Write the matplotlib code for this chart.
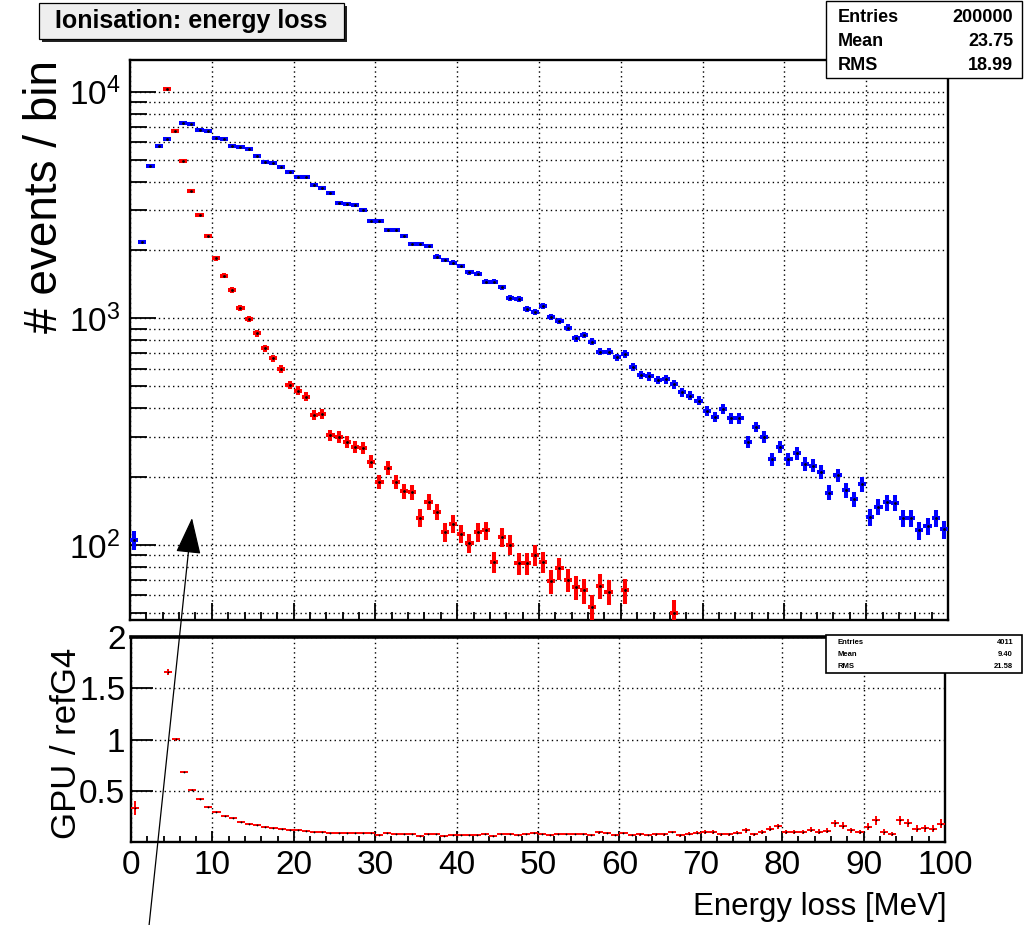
import numpy as np
import matplotlib
matplotlib.use("Agg")
import matplotlib.pyplot as plt
from matplotlib.ticker import LogLocator, MultipleLocator, FixedLocator, FixedFormatter, NullFormatter
from matplotlib.patches import Rectangle, FancyArrowPatch

plt.rcParams["font.family"] = "Liberation Sans"
plt.rcParams["mathtext.fontset"] = "custom"
plt.rcParams["mathtext.rm"] = "Liberation Sans"
plt.rcParams["mathtext.it"] = "Liberation Sans:italic"
plt.rcParams["mathtext.bf"] = "Liberation Sans:bold"

# ---------------------------------------------------------------- data
# energy-loss histogram, 1 MeV bins from 0 to 100 MeV
bin_edges = np.arange(0, 101, 1.0)

# reference Geant4 (blue)
ref_counts = np.array([
    105, 2178, 4710, 5780, 6180, 6700, 7250, 7180, 6780, 6710,
    6270, 6180, 5780, 5690, 5570, 5200, 4910, 4830, 4640, 4430,
    4220, 4220, 3870, 3750, 3560, 3240, 3210, 3150, 3020, 2680,
    2680, 2460, 2460, 2310, 2130, 2130, 2085, 1870, 1810, 1760,
    1700, 1600, 1570, 1450, 1450, 1370, 1226, 1217, 1096, 1069,
    1136, 1010, 976, 909, 816, 844, 788, 712, 712, 673,
    696, 608, 562, 554, 534, 538, 512, 472, 456, 433,
    391, 368, 397, 362, 362, 285, 332, 300, 239, 271,
    239, 254, 228, 224, 210, 170, 203, 175, 159, 185,
    133, 147, 154, 153, 131, 131, 116, 121, 131, 117,
])

# GPU simulation (red)
gpu_counts = np.array([
    35, 0, 0, 0, 10250, 6710, 4940, 3650, 2850, 2315,
    1840, 1542, 1334, 1107, 990, 859, 737, 666, 597, 508,
    479, 451, 374, 378, 305, 300, 285, 271, 267, 233,
    190, 219, 190, 172, 171, 132, 155, 140, 114, 124,
    112, 102, 114, 116, 84, 108, 100, 83, 83, 90,
    84, 69, 79, 70, 65, 63, 53, 66, 62, 46,
    63, 43, 42, 39, 40, 40, 50, 31, 37, 40,
    38, 36, 30, 27, 33, 32, 25, 29, 31, 41,
    23, 25, 22, 27, 21, 19, 37, 28, 18, 18,
    20, 31, 15, 12, 28, 24, 15, 16, 17, 21,
])

x_ticks = [0, 10, 20, 30, 40, 50, 60, 70, 80, 90, 100]
ratio_ticks = [0.5, 1.0, 1.5, 2.0]
ratio_tick_labels = ["0.5", "1", "1.5", "2"]

top_stats = [("Entries", "200000"), ("Mean", "23.75"), ("RMS", "18.99")]
bottom_stats = [("Entries", "4011"), ("Mean", "9.40"), ("RMS", "21.58")]

# ---------------------------------------------------------------- layout
W, H = 1027, 925
fig = plt.figure(figsize=(W / 100, H / 100), dpi=100)


def fx(px):
    return px / W


def fy(py):
    return 1 - py / H


ax1 = fig.add_axes([fx(130), fy(620), fx(948) - fx(130), fy(60) - fy(620)])
ax2 = fig.add_axes([fx(131), fy(842), fx(945) - fx(131), fy(637) - fy(842)])

centers = 0.5 * (bin_edges[:-1] + bin_edges[1:])
half_width = 0.5 * np.diff(bin_edges)

ylo, yhi = 46.6, 13800
dotted = (0, (1, 2.4))


def draw_counts(ax, counts, color, z):
    c = counts.astype(float)
    keep = c >= ylo
    ax.errorbar(centers[keep], c[keep], xerr=half_width[keep], yerr=np.sqrt(c[keep]),
                fmt="o", ms=2.0, mfc="k", mec="k", mew=0,
                ecolor=color, elinewidth=2.9, capsize=0, zorder=z)


# ---------------------------------------------------------------- upper pad
ax1.set_yscale("log")
draw_counts(ax1, ref_counts, "#0000ff", 3)
draw_counts(ax1, gpu_counts, "#ff0000", 4)
ax1.set_xlim(0, 100)
ax1.set_ylim(ylo, yhi)

ax1.yaxis.set_major_locator(LogLocator(base=10, subs=(1.0,)))
ax1.yaxis.set_minor_locator(LogLocator(base=10, subs=np.arange(2, 10)))
ax1.yaxis.set_minor_formatter(NullFormatter())
ax1.xaxis.set_major_locator(FixedLocator(x_ticks))
ax1.xaxis.set_minor_locator(MultipleLocator(2))

ax1.set_axisbelow(True)
ax1.grid(True, which="both", axis="y", ls=dotted, color="k", lw=1.0)
ax1.grid(True, which="major", axis="x", ls=dotted, color="k", lw=1.0)

ax1.tick_params(axis="y", which="major", direction="in", length=19, width=1.3,
                labelsize=24, pad=7, right=False)
ax1.tick_params(axis="y", which="minor", direction="in", length=12, width=1.3, right=False)
ax1.tick_params(axis="x", which="major", direction="in", length=12, width=1.3,
                labelbottom=False, top=False)
ax1.tick_params(axis="x", which="minor", direction="in", length=6, width=1.3, top=False)
for s in ax1.spines.values():
    s.set_linewidth(1.7)

# ---------------------------------------------------------------- ratio pad
ref_f = ref_counts.astype(float)
gpu_f = gpu_counts.astype(float)
has = gpu_f > 0
ratio = gpu_f[has] / ref_f[has]
ratio_err = ratio * np.sqrt(1.0 / gpu_f[has] + 1.0 / ref_f[has])

ax2.errorbar(centers[has], ratio, xerr=half_width[has], yerr=ratio_err,
             fmt="o", ms=1.3, mfc="k", mec="k", mew=0,
             ecolor="#ff0000", elinewidth=1.4, capsize=0, zorder=3)
ax2.set_xlim(0, 100)
ax2.set_ylim(0, 2)

ax2.xaxis.set_major_locator(FixedLocator(x_ticks))
ax2.xaxis.set_minor_locator(MultipleLocator(2))
ax2.yaxis.set_major_locator(FixedLocator(ratio_ticks))
ax2.yaxis.set_major_formatter(FixedFormatter(ratio_tick_labels))

ax2.set_axisbelow(True)
ax2.grid(True, which="major", ls=dotted, color="k", lw=1.0)

ax2.tick_params(axis="x", which="major", direction="in", length=8, width=1.3,
                labelsize=24, pad=6, top=False)
ax2.tick_params(axis="x", which="minor", direction="in", length=4, width=1.3, top=False)
ax2.tick_params(axis="y", which="major", direction="in", length=16, width=1.3,
                labelsize=24, pad=4, right=False)
for name, s in ax2.spines.items():
    s.set_linewidth(2.6 if name == "top" else 1.7)

# ---------------------------------------------------------------- axis titles
fig.text(fx(45), fy(60), "# events / bin", rotation=90, ha="center", va="top", fontsize=33)
fig.text(fx(66), fy(648), "GPU / refG4", rotation=90, ha="center", va="top", fontsize=25)
fig.text(fx(947), fy(922), "Energy loss [MeV]", ha="right", va="bottom", fontsize=22.5)

# ---------------------------------------------------------------- title box
fig.add_artist(Rectangle((fx(42), fy(42)), fx(344) - fx(39), fy(3) - fy(39),
                         transform=fig.transFigure, facecolor="#222222", edgecolor="none"))
fig.add_artist(Rectangle((fx(39), fy(39)), fx(344) - fx(39), fy(3) - fy(39),
                         transform=fig.transFigure, facecolor="#eeeeee",
                         edgecolor="k", lw=0.9))
fig.text(fx(191.5), fy(21), "Ionisation: energy loss", ha="center", va="center",
         fontsize=18, fontweight="bold")


# ---------------------------------------------------------------- statistics boxes
def stats_box(x0, y0, x1, y1, rows, size, lw, ytop):
    fig.add_artist(Rectangle((fx(x0), fy(y1)), fx(x1) - fx(x0), fy(y0) - fy(y1),
                             transform=fig.transFigure, facecolor="white",
                             edgecolor="k", lw=lw, zorder=10))
    step = (y1 - ytop) / len(rows)
    for i, (k, v) in enumerate(rows):
        yc = ytop + step * (i + 0.5)
        fig.text(fx(x0 + 12), fy(yc), k, ha="left", va="center", fontsize=size,
                 fontweight="bold", zorder=11)
        fig.text(fx(x1 - 9), fy(yc), v, ha="right", va="center", fontsize=size,
                 fontweight="bold", zorder=11)


stats_box(826, 1, 1022, 78, top_stats, 13, 1.0, 5)
stats_box(826, 635, 1022, 673, bottom_stats, 5.5, 1.2, 636)

# ---------------------------------------------------------------- pointer arrow
fig.add_artist(FancyArrowPatch((fx(149), fy(926)), (fx(192), fy(518)),
                               transform=fig.transFigure,
                               arrowstyle="-|>,head_length=23,head_width=8",
                               mutation_scale=1, shrinkA=0, shrinkB=0,
                               lw=0.9, color="k", zorder=12))

fig.savefig("out.png", dpi=100)
